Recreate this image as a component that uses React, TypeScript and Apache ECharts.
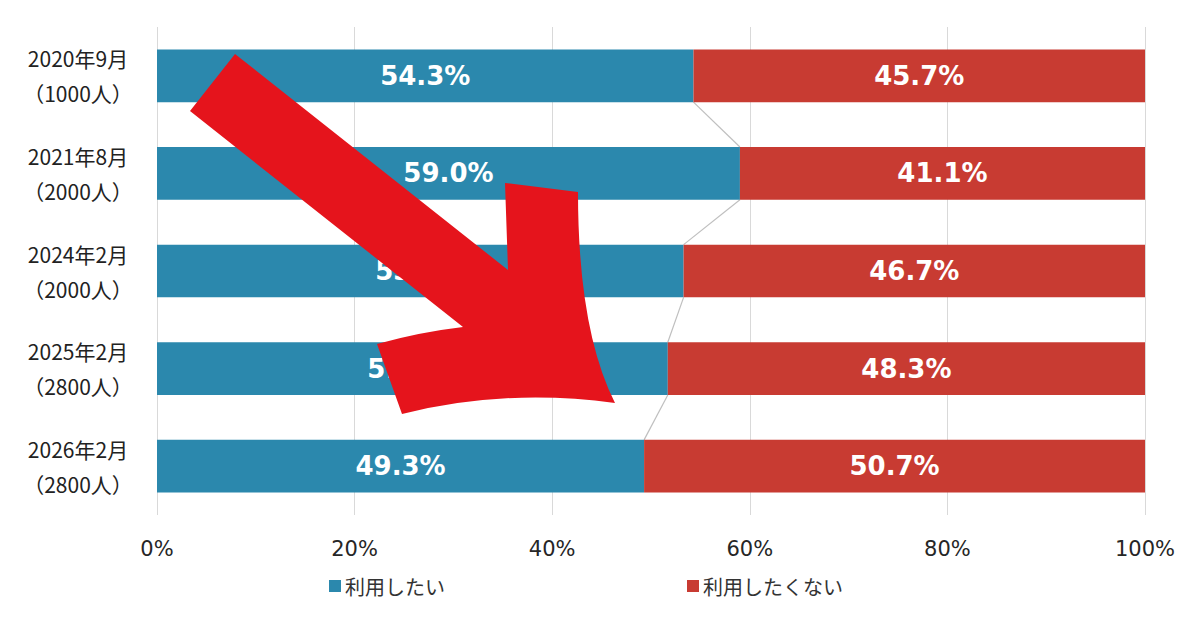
import React, { useEffect, useRef } from "react";
import * as echarts from "echarts";

const periods = ["2020年9月", "2021年8月", "2024年2月", "2025年2月", "2026年2月"];
const respondents = ["1000人", "2000人", "2000人", "2800人", "2800人"];
const wantToUse = [54.3, 59.0, 53.3, 51.7, 49.3];
const notWantToUse = [45.7, 41.1, 46.7, 48.3, 50.7];
const seriesNames = ["利用したい", "利用したくない"];
const xTicks = [0, 20, 40, 60, 80, 100];

const BLUE = "#2b88ad";
const RED = "#c83b32";
const BAR_RATIO = 0.54;

const ARROW_D =
  "M235,54 L508,270 L505,183 L578,192 Q578,330 615,403 Q505,388 402,414 L377,344 Q420,332 463,327 L190,111 Z";
echarts.graphic.registerShape("bigArrow", echarts.graphic.extendPath(ARROW_D, {}));

export default function App() {
  const ref = useRef<HTMLDivElement>(null);

  useEffect(() => {
    if (!ref.current) return;
    const chart = echarts.init(ref.current, undefined, { renderer: "svg" });

    const categories = periods.map((p, i) => `${p}\n（${respondents[i]}）`);
    const connectors = wantToUse.slice(0, -1).map((v, i) => [v, i, wantToUse[i + 1], i + 1]);

    chart.setOption({
      animation: false,
      backgroundColor: "#ffffff",
      grid: { left: 157, right: 55, top: 27, bottom: 115, containLabel: false },
      legend: {
        data: seriesNames,
        left: 324,
        top: 571,
        itemWidth: 12,
        itemHeight: 12,
        itemGap: 242,
        icon: "rect",
        textStyle: { fontFamily: "Noto Sans CJK JP", fontSize: 20, color: "#333333", padding: [0, 0, 0, -1] },
      },
      xAxis: {
        type: "value",
        min: xTicks[0],
        max: xTicks[xTicks.length - 1],
        interval: xTicks[1] - xTicks[0],
        axisLine: { show: false },
        axisTick: { show: false },
        splitLine: { show: true, lineStyle: { color: "#d9d9d9", width: 1 } },
        axisLabel: {
          formatter: (v: number) => `${v}%`,
          fontFamily: "DejaVu Sans",
          fontSize: 21,
          color: "#262626",
          margin: 23,
        },
      },
      yAxis: {
        type: "category",
        inverse: true,
        data: categories,
        axisLine: { show: false },
        axisTick: { show: false },
        axisLabel: {
          fontFamily: "Noto Sans CJK JP",
          fontSize: 21,
          lineHeight: 35,
          color: "#222222",
          align: "center",
          margin: 79,
        },
      },
      series: [
        {
          name: seriesNames[0],
          type: "bar",
          stack: "total",
          barWidth: `${BAR_RATIO * 100}%`,
          data: wantToUse,
          itemStyle: { color: BLUE },
          label: {
            show: true,
            position: "inside",
            color: "#ffffff",
            fontFamily: "DejaVu Sans",
            fontWeight: "bold",
            fontSize: 26,
            formatter: (p: any) => `${Number(p.value).toFixed(1)}%`,
          },
        },
        {
          name: seriesNames[1],
          type: "bar",
          stack: "total",
          barWidth: `${BAR_RATIO * 100}%`,
          data: notWantToUse,
          itemStyle: { color: RED },
          label: {
            show: true,
            position: "inside",
            color: "#ffffff",
            fontFamily: "DejaVu Sans",
            fontWeight: "bold",
            fontSize: 26,
            formatter: (p: any) => `${Number(p.value).toFixed(1)}%`,
          },
        },
        {
          name: "series-lines",
          type: "custom",
          silent: true,
          encode: { x: [0, 2], y: [1, 3] },
          data: connectors,
          renderItem: (params: any, api: any) => {
            const p1 = api.coord([api.value(0), api.value(1)]);
            const p2 = api.coord([api.value(2), api.value(3)]);
            const half = (api.size([0, 1])[1] * BAR_RATIO) / 2;
            return {
              type: "line",
              shape: { x1: p1[0], y1: p1[1] + half, x2: p2[0], y2: p2[1] - half },
              style: { stroke: "#bfbfbf", lineWidth: 1.2 },
            };
          },
        },
      ],
      graphic: [
        {
          type: "bigArrow",
          x: 0,
          y: 0,
          z: 100,
          silent: true,
          style: { fill: "#e5141c" },
        },
      ],
    });

    return () => chart.dispose();
  }, []);

  return (
    <div
      ref={ref}
      style={{ position: "absolute", left: 0, top: 0, width: 1200, height: 630, background: "#fff" }}
    />
  );
}
